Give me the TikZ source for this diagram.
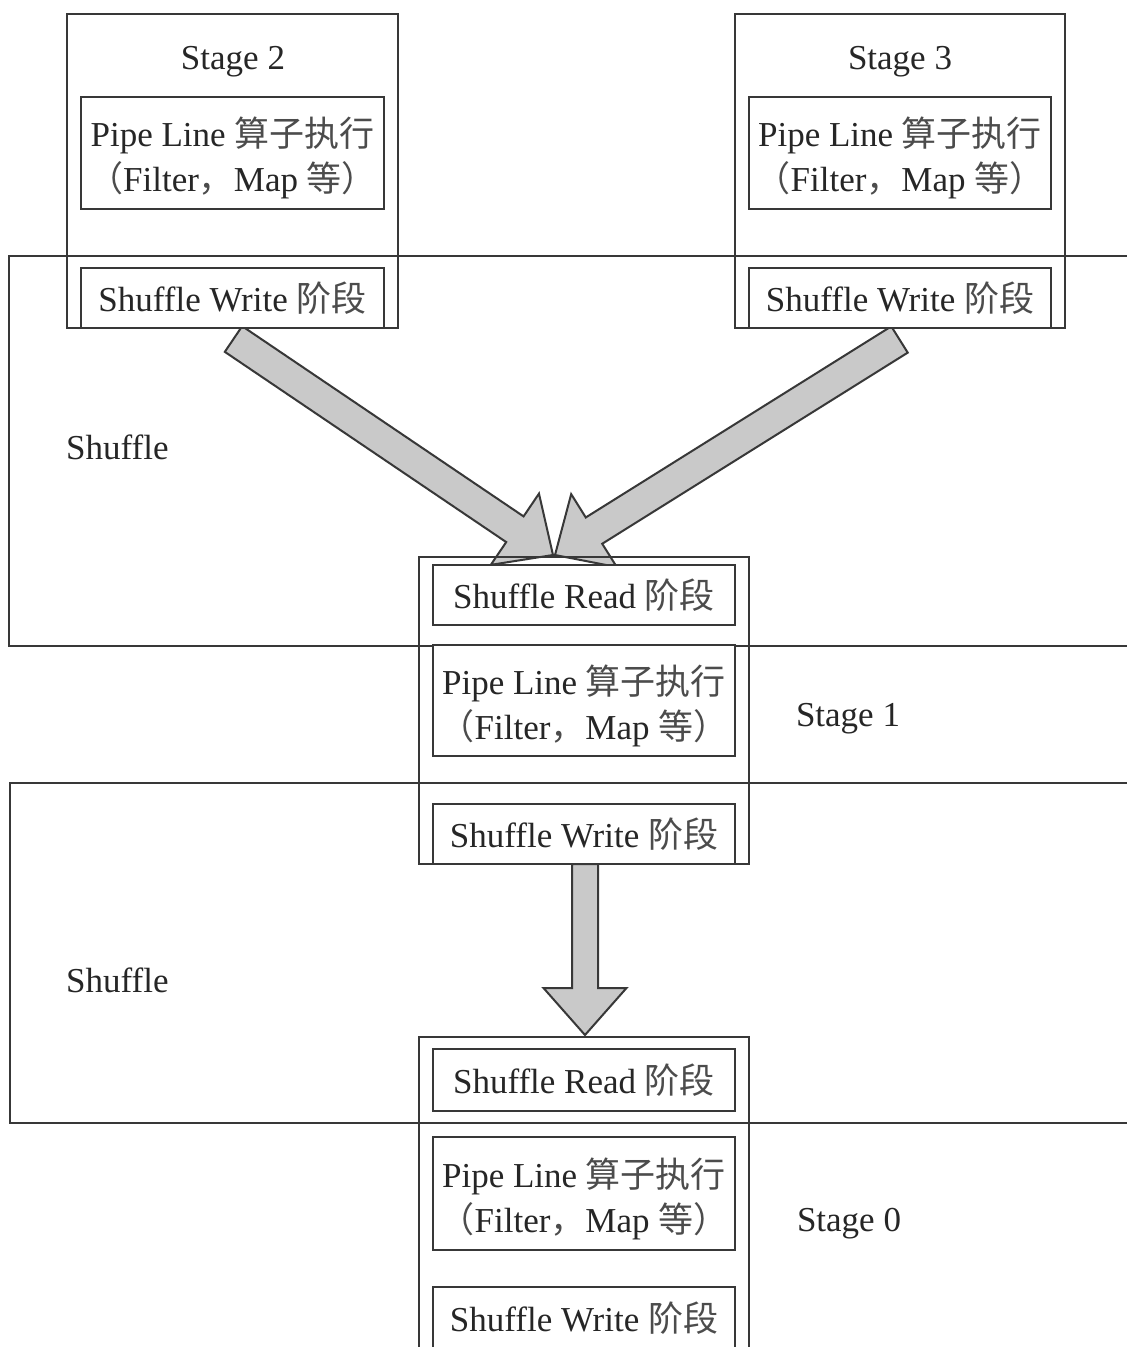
\documentclass[tikz,border=0pt]{standalone}
\usepackage{fontspec}
\setmainfont{Liberation Serif}
\newfontfamily\cjk{Noto Sans CJK SC}
\usetikzlibrary{calc}
\definecolor{ln}{HTML}{383838}
\definecolor{arfill}{HTML}{C9C9C9}
\definecolor{txt}{HTML}{262626}
\newcommand\zh[1]{{\cjk\color{black!70}#1}}
% block arrow: tail, tip, shaft half width, head half width, head length
\newcommand\blockarrow[5]{%
  \coordinate (ba-h) at ($(#2)!#5!(#1)$);
  \draw[barrow] ($(#1)!#3!90:(#2)$) -- ($(ba-h)!#3!90:(#2)$)
    -- ($(ba-h)!#4!90:(#2)$) -- (#2) -- ($(ba-h)!#4!-90:(#2)$)
    -- ($(ba-h)!#3!-90:(#2)$) -- ($(#1)!#3!-90:(#2)$) -- cycle;}
\tikzset{
  every node/.style={font=\fontsize{35}{45}\selectfont, text=txt},
  frame/.style={draw=ln, line width=2pt, inner sep=0pt},
  region/.style={frame},
  stagebox/.style={frame},
  inbox/.style={frame, fill=white, align=center},
  barrow/.style={draw=ln, fill=arfill, line width=2pt, line join=miter},
  lbl/.style={inner sep=0pt}
}
% two-line operator text, set a little lower inside its box
\newcommand\pipetext{\raisebox{-7pt}[\height][\depth]{\begin{tabular}{@{}c@{}}Pipe Line \zh{算子执行}\\\zh{（}Filter\zh{，}Map \zh{等）}\end{tabular}}}
\begin{document}
\begin{tikzpicture}[x=1pt, y=-1pt]
  \useasboundingbox (0,0) rectangle (1127,1347);
  \clip (0,0) rectangle (1127,1347);
  \fill[white] (0,0) rectangle (1127,1347);

  % shuffle regions
  \node[region, minimum width=1131pt, minimum height=390pt] (shufA) at (574.5,451) {};
  \node[region, minimum width=1130pt, minimum height=340pt] (shufB) at (575,953) {};
  \node[lbl, anchor=west] (shufAl) at (66,447) {Shuffle};
  \node[lbl, anchor=west] (shufBl) at (66,980) {Shuffle};

  % arrow end points
  \coordinate (a2t) at (233.5,339);
  \coordinate (a2h) at (553,555);
  \coordinate (a3t) at (899.5,339.5);
  \coordinate (a3h) at (555,555);
  \coordinate (a1t) at (585,864);
  \coordinate (a1h) at (585,1035);

  % shuffle arrows
  \blockarrow{a2t}{a2h}{15.5pt}{43pt}{46pt}
  \blockarrow{a3t}{a3h}{15.5pt}{43pt}{46pt}
  \blockarrow{a1t}{a1h}{13pt}{41.5pt}{47pt}

  % Stage 2
  \node[stagebox, minimum width=331pt, minimum height=314pt] (s2) at (232.5,171) {};
  \node[lbl] (s2l) at (233,62) {Stage 2};
  \node[inbox, minimum width=303pt, minimum height=112pt] (s2p) at (232.5,153) {\pipetext};
  \node[inbox, minimum width=303pt, minimum height=60pt] (s2w) at (232.5,298) {Shuffle Write \zh{阶段}};

  % Stage 3
  \node[stagebox, minimum width=330pt, minimum height=314pt] (s3) at (900,171) {};
  \node[lbl] (s3l) at (900,62) {Stage 3};
  \node[inbox, minimum width=302pt, minimum height=112pt] (s3p) at (900,153) {\pipetext};
  \node[inbox, minimum width=302pt, minimum height=60pt] (s3w) at (900,298) {Shuffle Write \zh{阶段}};

  % Stage 1
  \node[stagebox, minimum width=330pt, minimum height=307pt] (s1) at (584,710.5) {};
  \node[inbox, minimum width=302pt, minimum height=60pt] (s1r) at (584,595) {Shuffle Read \zh{阶段}};
  \node[inbox, minimum width=302pt, minimum height=111pt] (s1p) at (584,700.5) {\pipetext};
  \node[inbox, minimum width=302pt, minimum height=60pt] (s1w) at (584,834) {Shuffle Write \zh{阶段}};
  \node[lbl] (s1l) at (848,719) {Stage 1};

  % Stage 0
  \node[stagebox, minimum width=330pt, minimum height=315pt] (s0) at (584,1194.5) {};
  \node[inbox, minimum width=302pt, minimum height=62pt] (s0r) at (584,1080) {Shuffle Read \zh{阶段}};
  \node[inbox, minimum width=302pt, minimum height=113pt] (s0p) at (584,1193.5) {\pipetext};
  \node[inbox, minimum width=302pt, minimum height=63pt] (s0w) at (584,1318.5) {Shuffle Write \zh{阶段}};
  \node[lbl] (s0l) at (849,1224) {Stage 0};
\end{tikzpicture}
\end{document}
